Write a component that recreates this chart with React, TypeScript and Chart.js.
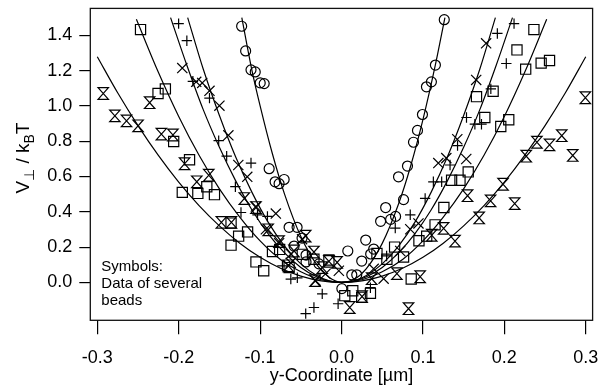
import React, { useEffect, useRef } from 'react';
import { Chart, registerables } from 'chart.js';

Chart.register(...registerables);

const xTickValues = [-0.3, -0.2, -0.1, 0, 0.1, 0.2, 0.3];
const xTickLabels = ['-0.3', '-0.2', '-0.1', '0.0', '0.1', '0.2', '0.3'];
const yTickValues = [0, 0.2, 0.4, 0.6, 0.8, 1.0, 1.2, 1.4];
const yTickLabels = ['0.0', '0.2', '0.4', '0.6', '0.8', '1.0', '1.2', '1.4'];
const xTitle = 'y-Coordinate [µm]';
const yTitleParts = [
  { t: 'V', sub: false },
  { t: '⊥', sub: true },
  { t: ' / k', sub: false },
  { t: 'B', sub: true },
  { t: 'T', sub: false },
];
const noteLines = ['Symbols:', 'Data of several', 'beads'];

// bead 1 (circles)
const circleX = [-0.1227, -0.1178, -0.1112, -0.106, -0.0999, -0.095, -0.0889, -0.0816, -0.0767, -0.0705, -0.0644, -0.0546, -0.0485, -0.0583, -0.0436, -0.0436, -0.0277, 0.0004, 0.0077, 0.0126, 0.0187, 0.0248, 0.0297, 0.0358, 0.0395, 0.048, 0.0542, 0.0603, 0.0664, 0.0762, 0.070, 0.081, 0.0884, 0.0933, 0.0994, 0.1043, 0.1104, 0.1153, 0.1262];
const circleY = [1.451, 1.311, 1.204, 1.192, 1.130, 1.126, 0.644, 0.570, 0.559, 0.583, 0.312, 0.312, 0.251, 0.206, 0.155, 0.116, 0.105, -0.035, 0.178, 0.043, 0.043, 0.121, 0.240, 0.161, 0.189, 0.346, 0.424, 0.357, 0.374, 0.469, 0.598, 0.659, 0.794, 0.861, 0.951, 1.108, 1.136, 1.231, 1.488];

// bead 2 (x crosses)
const crossX = [-0.1956, -0.1785, -0.1711, -0.1622, -0.1500, -0.1390, -0.1268, -0.1158, -0.1052, -0.0807, -0.0929, -0.0767, -0.0623, -0.0485, -0.0623, -0.0318, -0.0196, -0.0033, 0.0395, 0.0517, 0.0721, 0.0844, 0.0945, 0.1189, 0.1287, 0.1422, 0.1532, 0.1654, 0.1776];
const crossY = [1.214, 1.136, 1.130, 1.085, 1.001, 0.833, 0.665, 0.598, 0.430, 0.390, 0.301, 0.222, 0.161, 0.245, 0.111, 0.010, 0.049, 0.066, 0.077, 0.021, 0.178, 0.301, 0.334, 0.676, 0.704, 0.811, 0.699, 1.147, 1.354];

// bead 3 (plus signs)
const plusX = [-0.2001, -0.1900, -0.1826, -0.1622, -0.1509, -0.1411, -0.1304, -0.1112, -0.1235, -0.1032, -0.0910, -0.0726, -0.0623, -0.0543, -0.0237, -0.0440, -0.0339, -0.0042, 0.0355, 0.0554, 0.0660, 0.0844, 0.1027, 0.1128, 0.1230, 0.1333, 0.1425, 0.1535, 0.1638, 0.1719, 0.1834, 0.2024, 0.1914, 0.2119];
const plusY = [1.466, 1.369, 1.139, 1.044, 0.803, 0.715, 0.542, 0.676, 0.396, 0.383, 0.374, 0.094, 0.019, 0.026, -0.065, -0.177, -0.142, -0.121, -0.030, 0.150, 0.308, 0.383, 0.476, 0.570, 0.570, 0.665, 0.775, 0.934, 0.896, 0.896, 1.096, 1.240, 1.410, 1.466];

// bead 4 (squares)
const squareX = [-0.2469, -0.2254, -0.2164, -0.2062, -0.1867, -0.1956, -0.1765, -0.1655, -0.1561, -0.1357, -0.1264, -0.1154, -0.1357, -0.1051, -0.0956, -0.0848, -0.0760, -0.0644, -0.0482, -0.0339, -0.0155, 0.0040, 0.0138, 0.0248, 0.0355, 0.0435, 0.0557, 0.0652, 0.0762, 0.0856, 0.0951, 0.1046, 0.1149, 0.1257, 0.1352, 0.1455, 0.1556, 0.1658, 0.1760, 0.1862, 0.1956, 0.2054, 0.2155, 0.2262, 0.2363, 0.2452, 0.2555];
const squareY = [1.432, 1.070, 1.096, 0.798, 0.695, 0.510, 0.504, 0.542, 0.497, 0.336, 0.262, 0.286, 0.211, 0.116, 0.066, 0.175, 0.187, 0.084, 0.159, 0.131, 0.127, -0.075, -0.047, -0.084, -0.062, 0.164, 0.131, 0.200, 0.144, 0.019, 0.236, 0.262, 0.326, 0.424, 0.579, 0.579, 0.626, 1.052, 0.934, 1.083, 0.883, 0.921, 1.317, 1.208, 1.432, 1.242, 1.257];

// bead 5 (hourglasses)
const hourX = [-0.2927, -0.2784, -0.2641, -0.2499, -0.2357, -0.2213, -0.2071, -0.1928, -0.1778, -0.1631, -0.1476, -0.1353, -0.1194, -0.1051, -0.0901, -0.0767, -0.0653, -0.0583, -0.0440, -0.0339, -0.0326, -0.0237, -0.0155, -0.0054, 0.0101, 0.0252, 0.0370, 0.0680, 0.0823, 0.0966, 0.1108, 0.1254, 0.1394, 0.1548, 0.1691, 0.1831, 0.1984, 0.2127, 0.2269, 0.2400, 0.2555, 0.2705, 0.2840, 0.2995];
const hourY = [1.070, 0.943, 0.915, 0.887, 1.018, 0.840, 0.835, 0.672, 0.570, 0.607, 0.340, 0.340, 0.475, 0.424, 0.298, 0.231, 0.094, 0.178, 0.262, 0.172, 0.010, 0.084, 0.119, 0.113, -0.142, -0.080, 0.021, 0.050, -0.149, 0.032, 0.267, 0.306, 0.234, 0.491, 0.365, 0.462, 0.556, 0.446, 0.715, 0.794, 0.779, 0.831, 0.719, 1.046];

// fitted curves
const curveAX = [-0.1225, -0.11, -0.1, -0.085, -0.07, -0.05, -0.03, -0.015, 0, 0.015, 0.03, 0.05, 0.07, 0.085, 0.1, 0.115, 0.127];
const curveAY = [1.50, 1.20, 1.00, 0.73, 0.50, 0.26, 0.098, 0.028, 0.0, 0.016, 0.075, 0.221, 0.444, 0.661, 0.922, 1.226, 1.50];
const curveBX = [-0.252, -0.225, -0.2, -0.175, -0.15, -0.125, -0.1, -0.075, -0.05, -0.025, 0, 0.025, 0.05, 0.075, 0.1, 0.125, 0.15, 0.175, 0.2, 0.225, 0.252];
const curveBY = [1.49, 1.19, 0.94, 0.72, 0.53, 0.37, 0.235, 0.13, 0.06, 0.015, 0, 0.015, 0.06, 0.13, 0.235, 0.37, 0.53, 0.72, 0.94, 1.19, 1.49];
const curveCX = [-0.21, -0.19, -0.17, -0.15, -0.13, -0.11, -0.09, -0.07, -0.05, -0.03, -0.015, 0, 0.015, 0.03, 0.05, 0.07, 0.09, 0.11, 0.13, 0.15, 0.17, 0.19, 0.21];
const curveCY = [1.50, 1.23, 0.98, 0.765, 0.575, 0.41, 0.275, 0.167, 0.085, 0.031, 0.008, 0, 0.008, 0.031, 0.085, 0.167, 0.275, 0.41, 0.575, 0.765, 0.98, 1.23, 1.50];
const curveDX = [-0.189, -0.17, -0.15, -0.13, -0.11, -0.09, -0.07, -0.05, -0.03, -0.015, 0, 0.015, 0.03, 0.05, 0.07, 0.09, 0.11, 0.13, 0.15, 0.17, 0.189];
const curveDY = [1.50, 1.21, 0.945, 0.71, 0.51, 0.34, 0.206, 0.105, 0.038, 0.009, 0, 0.009, 0.038, 0.105, 0.206, 0.34, 0.51, 0.71, 0.945, 1.21, 1.50];
const curveEX = [-0.3, -0.275, -0.25, -0.225, -0.2, -0.175, -0.15, -0.125, -0.1, -0.075, -0.05, -0.025, 0, 0.025, 0.05, 0.075, 0.1, 0.125, 0.15, 0.175, 0.2, 0.225, 0.25, 0.275, 0.3];
const curveEY = [1.278, 1.074, 0.888, 0.719, 0.568, 0.435, 0.32, 0.222, 0.142, 0.08, 0.036, 0.009, 0, 0.009, 0.036, 0.08, 0.142, 0.222, 0.32, 0.435, 0.568, 0.719, 0.888, 1.074, 1.278];

const FONT = '"Liberation Sans", Arial, Helvetica, sans-serif';
const HOUR_INDEX = 9;

function pairs(xs: number[], ys: number[]) {
  const n = Math.min(xs.length, ys.length);
  const out: { x: number; y: number }[] = [];
  for (let i = 0; i < n; i++) out.push({ x: xs[i], y: ys[i] });
  return out;
}

const overlayPlugin = {
  id: 'overlay',
  afterDatasetsDraw(chart: any) {
    const { ctx } = chart;
    const meta = chart.getDatasetMeta(HOUR_INDEX);
    ctx.save();
    ctx.strokeStyle = '#000';
    ctx.lineWidth = 1.2;
    ctx.lineJoin = 'miter';
    meta.data.forEach((el: any) => {
      const x = el.x;
      const y = el.y;
      const hw = 5.2;
      const hh = 5.8;
      ctx.beginPath();
      ctx.moveTo(x - hw, y - hh);
      ctx.lineTo(x + hw, y - hh);
      ctx.lineTo(x - hw, y + hh);
      ctx.lineTo(x + hw, y + hh);
      ctx.closePath();
      ctx.stroke();
    });
    ctx.restore();
  },
  afterDraw(chart: any) {
    const { ctx, chartArea: a } = chart;
    ctx.save();
    ctx.strokeStyle = '#111';
    ctx.lineWidth = 1.3;
    ctx.strokeRect(a.left, a.top, a.right - a.left, a.bottom - a.top);

    ctx.fillStyle = '#000';
    ctx.textAlign = 'left';
    ctx.textBaseline = 'alphabetic';
    ctx.font = `15px ${FONT}`;
    noteLines.forEach((t, i) => ctx.fillText(t, a.left + 11, a.bottom - 49.6 + i * 17.2));

    ctx.translate(28.5, 193.5);
    ctx.rotate(-Math.PI / 2);
    let x = 0;
    yTitleParts.forEach((p) => {
      ctx.font = p.sub ? `14px ${FONT}` : `19px ${FONT}`;
      ctx.fillText(p.t, x, p.sub ? 5 : 0);
      x += ctx.measureText(p.t).width;
    });
    ctx.restore();
  },
};

export default function App() {
  const ref = useRef<HTMLCanvasElement>(null);
  useEffect(() => {
    if (!ref.current) return;
    const pointSet = (data: any, style: any, radius: number) => ({
      type: 'scatter' as const,
      data,
      showLine: false,
      pointStyle: style,
      pointRadius: radius,
      pointHoverRadius: radius,
      pointBorderColor: '#000',
      pointBackgroundColor: 'rgba(0,0,0,0)',
      pointBorderWidth: 1.2,
    });
    const curve = (data: any) => ({
      type: 'line' as const,
      data,
      showLine: true,
      borderColor: '#000',
      borderWidth: 1.2,
      pointRadius: 0,
      cubicInterpolationMode: 'monotone' as const,
      fill: false,
    });
    const chart = new Chart(ref.current, {
      type: 'scatter',
      data: {
        datasets: [
          curve(pairs(curveAX, curveAY)),
          curve(pairs(curveBX, curveBY)),
          curve(pairs(curveCX, curveCY)),
          curve(pairs(curveDX, curveDY)),
          curve(pairs(curveEX, curveEY)),
          pointSet(pairs(circleX, circleY), 'circle', 5),
          pointSet(pairs(crossX, crossY), 'crossRot', 7.2),
          pointSet(pairs(plusX, plusY), 'cross', 5.2),
          pointSet(pairs(squareX, squareY), 'rect', 7.2),
          pointSet(pairs(hourX, hourY), 'circle', 0),
        ] as any,
      },
      options: {
        responsive: false,
        animation: false,
        events: [],
        layout: { padding: { left: 0, right: 6, top: 4.7, bottom: 0 } },
        plugins: { legend: { display: false }, tooltip: { enabled: false } },
        scales: {
          x: {
            type: 'linear',
            min: -0.3086,
            max: 0.3084,
            afterBuildTicks: (s: any) => {
              s.ticks = xTickValues.map((v) => ({ value: v }));
            },
            afterFit: (s: any) => {
              s.height = 70.7;
              s.paddingLeft = 0;
              s.paddingRight = 0;
              s.paddingTop = 0;
              s.paddingBottom = 0;
            },
            grid: { display: true, drawOnChartArea: false, drawTicks: true, tickLength: 14, color: '#000', lineWidth: 1.2 },
            border: { display: false },
            ticks: {
              autoSkip: false,
              maxRotation: 0,
              padding: 13,
              color: '#000',
              font: { family: FONT, size: 18 },
              callback: (_v: any, i: number) => xTickLabels[i],
            },
            title: {
              display: true,
              text: xTitle,
              color: '#000',
              font: { family: FONT, size: 18 },
              padding: { top: 0, bottom: 4 },
            },
          },
          y: {
            type: 'linear',
            min: -0.2146,
            max: 1.552,
            afterBuildTicks: (s: any) => {
              s.ticks = yTickValues.map((v) => ({ value: v }));
            },
            afterFit: (s: any) => {
              s.width = 90.3;
              s.paddingLeft = 0;
              s.paddingRight = 0;
              s.paddingTop = 0;
              s.paddingBottom = 0;
            },
            grid: { display: true, drawOnChartArea: false, drawTicks: true, tickLength: 11, color: '#000', lineWidth: 1.2 },
            border: { display: false },
            ticks: {
              autoSkip: false,
              padding: 7,
              color: '#000',
              font: { family: FONT, size: 18 },
              callback: (_v: any, i: number) => yTickLabels[i],
            },
          },
        },
      },
      plugins: [overlayPlugin],
    });
    return () => chart.destroy();
  }, []);

  return (
    <div style={{ position: 'fixed', left: 0, top: 0, width: 601, height: 391, background: '#fff' }}>
      <canvas ref={ref} width={601} height={391} style={{ display: 'block' }} />
    </div>
  );
}
